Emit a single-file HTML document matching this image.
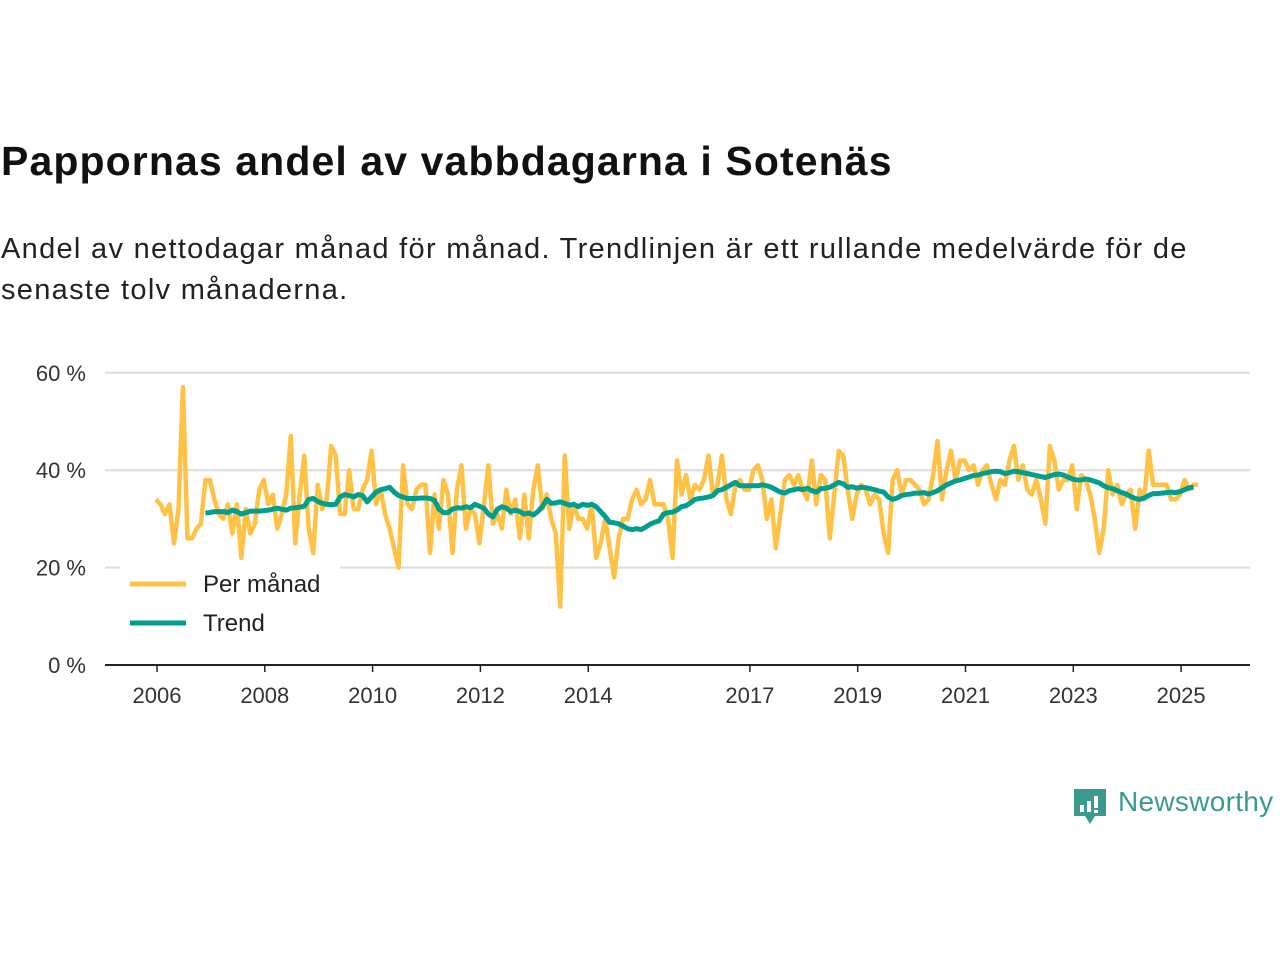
<!DOCTYPE html>
<html><head><meta charset="utf-8"><style>
body{margin:0;background:#fff;font-family:"Liberation Sans","DejaVu Sans",sans-serif;}
#wrap{position:relative;width:1280px;height:960px;overflow:hidden;}
h1{position:absolute;left:1px;top:138px;margin:0;font-size:41px;font-weight:bold;color:#111;letter-spacing:1.1px;white-space:nowrap}
p.sub{position:absolute;left:1px;top:229px;margin:0;font-size:29px;line-height:41px;color:#222;width:1240px;letter-spacing:1.3px}
</style></head><body><div id="wrap">
<h1>Pappornas andel av vabbdagarna i Sotenäs</h1>
<p class="sub">Andel av nettodagar månad för månad. Trendlinjen är ett rullande medelvärde för de senaste tolv månaderna.</p>
<svg id="chart" width="1280" height="960" style="position:absolute;left:0;top:0"></svg>
<div style="position:absolute;left:1073px;top:787px;">
<svg width="36" height="40"><path d="M1 2h32v27H22l-5 8-5-8H1z" fill="#3b9a8f"/><rect x="7" y="18" width="4" height="7" fill="#fff"/><rect x="14" y="14" width="4" height="11" fill="#fff"/><rect x="21" y="9" width="4" height="12" fill="#fff"/><rect x="21" y="23" width="4" height="3" fill="#fff"/></svg>
<span style="position:absolute;left:45px;top:-1px;font-size:28px;color:#3b9a8f;letter-spacing:0.3px;white-space:nowrap">Newsworthy</span></div>
</div>
<script>
const monthly = [
34,33,31,33,25,32,57,26,26,28,29,38,
38,34,31,30,33,27,33,22,32,27,29,36,
38,33,35,28,31,35,47,25,35,43,28,23,
37,32,34,45,43,31,31,40,32,32,36,38,
44,33,36,31,28,24,20,41,33,32,36,37,
37,23,35,28,38,35,23,36,41,28,32,31,
25,33,41,29,31,28,36,31,34,26,35,26,
36,41,32,35,30,27,12,43,28,33,30,30,
28,33,22,25,30,24,18,26,30,30,34,36,
33,34,38,33,33,33,30,22,42,35,39,34,
37,36,38,43,35,37,43,34,31,37,38,36,
36,40,41,38,30,34,24,31,38,39,37,39,
36,34,42,33,39,38,26,35,44,43,36,30,
35,37,36,33,35,34,27,23,38,40,35,38,
38,37,36,33,34,39,46,34,40,44,38,42,
42,40,41,37,40,41,37,34,38,37,42,45,
38,41,36,35,38,34,29,45,42,36,38,38,
41,32,39,38,35,30,23,28,40,35,37,33,
35,36,28,36,34,44,37,37,37,37,34,34,
35,38,36,37,37];
const trendStart = 11; // index of first trend month (Dec 2006)
const trend = [31.2,
31.3,31.5,31.5,31.5,31.3,31.8,31.5,31,31.3,31.6,31.6,31.6,
31.7,31.8,32,32.2,32,31.8,32.2,32.3,32.4,32.6,34,34.2,
33.6,33.2,33,32.9,33,34.5,35,34.8,34.5,35,34.8,33.5,
34.5,35.5,36,36.2,36.5,35.5,34.8,34.5,34.2,34.2,34.2,34.3,
34.3,34.2,33.8,32,31.3,31.3,32,32.3,32.2,32.5,32.3,33,
32.6,32.2,31,30.4,32,32.5,32.2,31.5,31.8,31.5,31,31.2,
30.8,31.5,32.5,34,33.2,33.3,33.5,33.2,32.8,33,32.5,33,
32.8,33,32.5,31.5,30.5,29.3,29.2,29,28.5,28,27.8,28,
27.8,28.3,28.9,29.3,29.6,31,31.3,31.4,31.8,32.5,32.7,33.3,
34,34.2,34.3,34.5,34.8,35.8,36,36.5,37,37.5,36.8,36.8,
36.8,36.8,36.8,37,36.8,36.5,36,35.5,35.3,35.8,36,36.2,
36,36.3,35.8,35.5,36.2,36.3,36.5,37,37.5,37.2,36.5,36.6,
36.3,36.5,36.4,36.2,36,35.7,35.5,34.5,34,34.3,34.8,35,
35.1,35.3,35.3,35.4,35.1,35.4,35.8,36.4,37,37.4,37.8,38,
38.3,38.6,38.9,39,39.3,39.5,39.7,39.8,39.7,39.3,39.5,39.8,
39.7,39.5,39.3,39.1,38.9,38.7,38.5,38.8,39.1,39.2,39,38.6,
38.2,38,38,38.2,38,37.7,37.4,36.8,36.4,36.2,35.8,35.4,
35.1,34.6,34.2,34,34.3,34.8,35.2,35.2,35.3,35.4,35.5,35.4,
35.6,36,36.4,36.5];
const yTicks = [0,20,40,60];
const yTickLabels = ["0 %","20 %","40 %","60 %"];
const xTicks = [2006,2008,2010,2012,2014,2017,2019,2021,2023,2025];
const startYear = 2006;

const svg = document.getElementById('chart');
const NS = 'http://www.w3.org/2000/svg';
const xScale = t => 157 + (t - startYear) * 53.9;
const yScale = v => 665 - v * 4.87;
const xIdx = i => xScale(startYear + i / 12) - 1;
function mk(tag, attrs){const e=document.createElementNS(NS,tag);for(const k in attrs)e.setAttribute(k,attrs[k]);svg.appendChild(e);return e;}

yTicks.forEach((v,i)=>{
  if(v>0){const g=mk('line',{x1:105,x2:1250,y1:yScale(v),y2:yScale(v),stroke:'#dcdcdc','stroke-width':2});
  
  }
  const t=mk('text',{x:86,y:yScale(v)+8,'text-anchor':'end','font-size':22,fill:'#333','font-family':'Liberation Sans, sans-serif'});
  t.textContent=yTickLabels[i];
  
  
});
const ax=mk('line',{x1:105,x2:1250,y1:665,y2:665,stroke:'#222','stroke-width':2});


xTicks.forEach(y=>{
  const tk=mk('line',{x1:xScale(y),x2:xScale(y),y1:665,y2:672,stroke:'#222','stroke-width':1.5});
  
  
  const t=mk('text',{x:xScale(y),y:703,'text-anchor':'middle','font-size':22,fill:'#333','font-family':'Liberation Sans, sans-serif'});
  t.textContent=y;
  
  
});
const pm=mk('polyline',{points:monthly.map((v,i)=>xIdx(i)+','+yScale(v)).join(' '),fill:'none',stroke:'#ffc247','stroke-width':4.5,'stroke-linejoin':'round'});


const tr=mk('polyline',{points:trend.map((v,i)=>xIdx(i+trendStart)+','+yScale(v)).join(' '),fill:'none',stroke:'#009e8f','stroke-width':5,'stroke-linejoin':'round'});


const lb=mk('rect',{x:120,y:566,width:220,height:76,fill:'#fff'});


[['Per månad','#ffc247',584],['Trend','#009e8f',623]].forEach(([n,c,y])=>{
  const l=mk('line',{x1:130,x2:186,y1:y,y2:y,stroke:c,'stroke-width':5});
  
  
  const t=mk('text',{x:203,y:y+8,'font-size':24,fill:'#222','font-family':'Liberation Sans, sans-serif'});
  t.textContent=n;
  
  
});
</script></body></html>
